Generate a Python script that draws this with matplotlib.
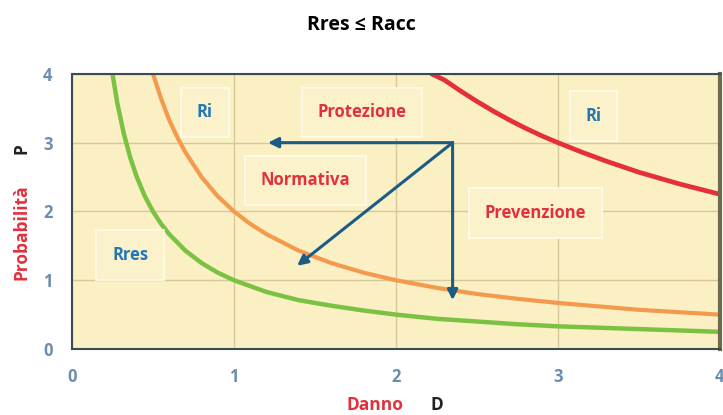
import matplotlib.pyplot as plt

# curve values
danno_res = [0.25, 0.28, 0.32, 0.36, 0.4, 0.45, 0.5, 0.55, 0.6, 0.7, 0.8, 0.9, 1.0,
             1.2, 1.4, 1.6, 1.8, 2.0, 2.25, 2.5, 2.75, 3.0, 3.5, 4.0]
prob_res = [4.0, 3.57, 3.13, 2.78, 2.5, 2.22, 2.0, 1.82, 1.67, 1.43, 1.25, 1.11, 1.0,
            0.83, 0.71, 0.63, 0.56, 0.5, 0.44, 0.4, 0.36, 0.33, 0.29, 0.25]

danno_norm = [0.5, 0.55, 0.6, 0.65, 0.7, 0.8, 0.9, 1.0, 1.1, 1.2, 1.4, 1.6, 1.8, 2.0,
              2.25, 2.5, 2.75, 3.0, 3.5, 4.0]
prob_norm = [4.0, 3.64, 3.33, 3.08, 2.86, 2.5, 2.22, 2.0, 1.82, 1.67, 1.43, 1.25, 1.11, 1.0,
             0.89, 0.8, 0.73, 0.67, 0.57, 0.5]

danno_acc = [2.22, 2.3, 2.4, 2.5, 2.6, 2.7, 2.8, 2.9, 3.0, 3.15, 3.3, 3.5, 3.75, 4.0]
prob_acc = [4.0, 3.91, 3.75, 3.6, 3.46, 3.33, 3.21, 3.1, 3.0, 2.86, 2.73, 2.57, 2.4, 2.25]

ticks = [0, 1, 2, 3, 4]

# arrows: origin and end points
arrow_start = (2.35, 3.0)
arrow_ends = [(1.21, 3.0), (1.39, 1.21), (2.35, 0.71)]

# labels in boxes: text, D, P, colour
labels = [
    ("Ri", 0.82, 3.44, "#2277B5"),
    ("Protezione", 1.79, 3.44, "#E0313C"),
    ("Normativa", 1.44, 2.45, "#E0313C"),
    ("Prevenzione", 2.86, 1.98, "#E0313C"),
    ("Ri", 3.22, 3.39, "#2277B5"),
    ("Rres", 0.36, 1.37, "#2277B5"),
]

plt.rcParams['font.family'] = ['Open Sans', 'DejaVu Sans']

fig = plt.figure(figsize=(7.23, 4.15), dpi=100)
ax = fig.add_axes([0.0996, 0.159, 0.896, 0.663])
ax.set_facecolor('#FAF0C4')

ax.set_xlim(0, 4)
ax.set_ylim(0, 4)
ax.set_xticks(ticks)
ax.set_yticks(ticks)
ax.grid(True, color='#D9C79A', linewidth=1.0)
ax.set_axisbelow(True)

ax.plot(danno_res, prob_res, color='#7CC242', linewidth=3.2, solid_capstyle='round',
        solid_joinstyle='round')
ax.plot(danno_norm, prob_norm, color='#F49A4C', linewidth=3.0, solid_capstyle='round',
        solid_joinstyle='round')
ax.plot(danno_acc, prob_acc, color='#E5303A', linewidth=3.4, solid_capstyle='round',
        solid_joinstyle='round')

for end in arrow_ends:
    ax.annotate('', xy=end, xytext=arrow_start,
                arrowprops=dict(arrowstyle='-|>,head_length=0.6,head_width=0.3',
                                color='#1D5B87', lw=2.2, shrinkA=0, shrinkB=0))

for txt, d, p, c in labels:
    ax.text(d, p, txt, color=c, fontsize=12, fontweight='bold', ha='center', va='center',
            bbox=dict(boxstyle='square,pad=0.95', facecolor='#FBF2CC',
                      edgecolor='#FFFBEA', linewidth=1.2))

for s in ['left', 'top', 'bottom']:
    ax.spines[s].set_color('#3C4A55')
    ax.spines[s].set_linewidth(1.5)
ax.spines['right'].set_color('#6E6A4A')
ax.spines['right'].set_linewidth(3)

ax.tick_params(length=0, pad=14, labelsize=12, labelcolor='#6C8DB0')
for lab in ax.get_xticklabels() + ax.get_yticklabels():
    lab.set_fontweight('bold')

fig.text(0.5, 0.94, "Rres ≤ Racc", ha='center', va='center', fontsize=14, fontweight='bold')

fig.text(0.030, 0.44, "Probabilità", color='#E0313C', rotation=90, ha='center', va='center',
         fontsize=12.5, fontweight='bold')
fig.text(0.030, 0.643, "P", color='#222222', rotation=90, ha='center', va='center',
         fontsize=12.5, fontweight='bold')
fig.text(0.519, 0.024, "Danno", color='#E0313C', ha='center', va='center',
         fontsize=12.5, fontweight='bold')
fig.text(0.604, 0.024, "D", color='#222222', ha='center', va='center',
         fontsize=12.5, fontweight='bold')

fig.savefig('out.png', dpi=100)
